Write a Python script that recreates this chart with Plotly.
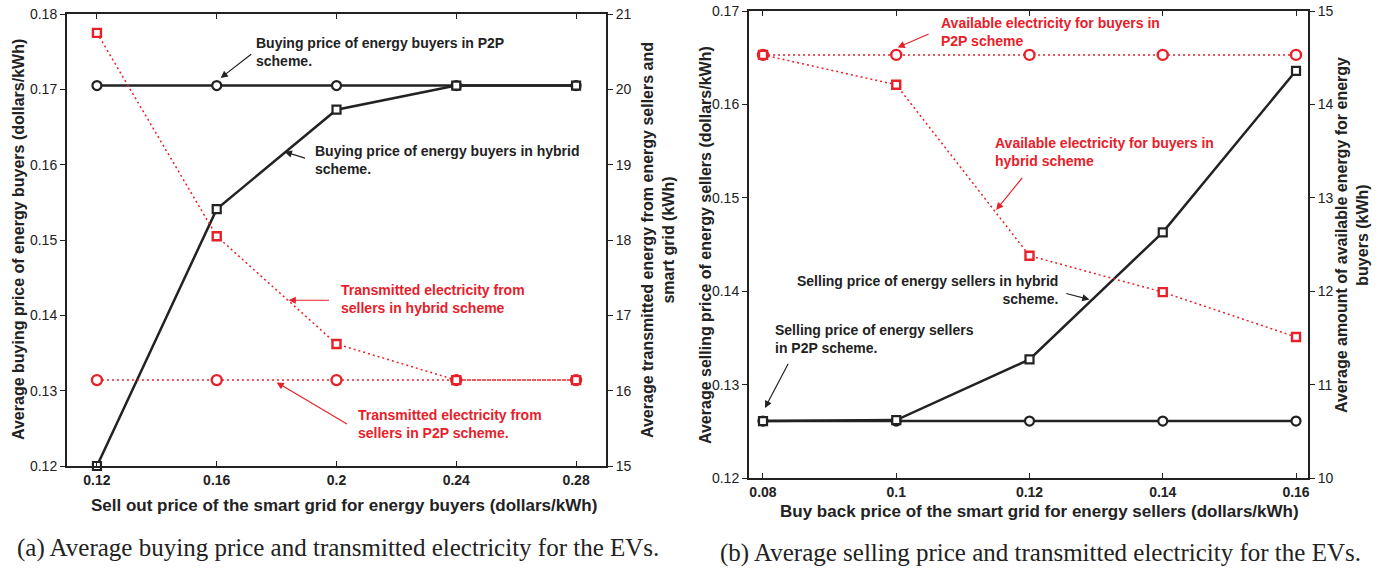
import plotly.graph_objects as go

# ---- data -------------------------------------------------------------
sell_out_price = [0.12, 0.16, 0.20, 0.24, 0.28]
sell_out_ticks = ["0.12", "0.16", "0.2", "0.24", "0.28"]
buy_price_p2p = [0.1705, 0.1705, 0.1705, 0.1705, 0.1705]
buy_price_hybrid = [0.1200, 0.1541, 0.1673, 0.1705, 0.1705]
transmitted_hybrid = [20.75, 18.05, 16.62, 16.14, 16.14]
transmitted_p2p = [16.14, 16.14, 16.14, 16.14, 16.14]

buy_back_price = [0.08, 0.10, 0.12, 0.14, 0.16]
buy_back_ticks = ["0.08", "0.1", "0.12", "0.14", "0.16"]
sell_price_p2p = [0.1261, 0.1261, 0.1261, 0.1261, 0.1261]
sell_price_hybrid = [0.1261, 0.1262, 0.1327, 0.1463, 0.1636]
available_p2p = [14.53, 14.53, 14.53, 14.53, 14.53]
available_hybrid = [14.53, 14.21, 12.38, 11.99, 11.51]

W, H = 1383, 570
BLACK = "#222222"
RED = "#E8202A"
SANS = "Liberation Sans, Arial, sans-serif"
SERIF = "Liberation Serif, Times New Roman, serif"


def px(x):
    return x / W


def py(y):
    return 1 - y / H


fig = go.Figure()


def black_trace(x, y, symbol, xa, ya):
    fig.add_trace(go.Scatter(
        x=x, y=y, xaxis=xa, yaxis=ya, mode="lines+markers",
        line=dict(color=BLACK, width=2.5),
        marker=dict(symbol=symbol, size=9 if symbol == "circle" else 8,
                    color="white", line=dict(color=BLACK, width=2.2)),
        cliponaxis=False, showlegend=False))


def red_trace(x, y, symbol, xa, ya):
    fig.add_trace(go.Scatter(
        x=x, y=y, xaxis=xa, yaxis=ya, mode="lines+markers",
        line=dict(color=RED, width=1.5, dash="2px,3px"),
        marker=dict(symbol=symbol, size=10 if symbol == "circle" else 8,
                    color="white", line=dict(color=RED, width=2.4)),
        cliponaxis=False, showlegend=False))


# panel (a)
red_trace(sell_out_price, transmitted_p2p, "circle", "x", "y2")
red_trace(sell_out_price, transmitted_hybrid, "square", "x", "y2")
black_trace(sell_out_price, buy_price_p2p, "circle", "x", "y")
black_trace(sell_out_price, buy_price_hybrid, "square", "x", "y")

# panel (b)
red_trace(buy_back_price, available_p2p, "circle", "x2", "y4")
red_trace(buy_back_price, available_hybrid, "square", "x2", "y4")
black_trace(buy_back_price, sell_price_p2p, "circle", "x2", "y3")
black_trace(buy_back_price, sell_price_hybrid, "square", "x2", "y3")

tick_font = dict(family=SANS, size=14, color=BLACK)
xtick_font = dict(family=SANS, size=14, color=BLACK, weight="bold")
axis_common = dict(showgrid=False, zeroline=False, showline=True,
                   linewidth=2, linecolor=BLACK, tickcolor=BLACK,
                   tickwidth=1.2, ticklen=5, automargin=False)

fig.update_layout(
    width=W, height=H,
    margin=dict(l=0, r=0, t=0, b=0, autoexpand=False),
    paper_bgcolor="white", plot_bgcolor="white",
    xaxis=dict(domain=[px(67), px(606)], range=[0.11, 0.29], anchor="y",
               tickvals=sell_out_price, ticktext=sell_out_ticks,
               ticks="inside", mirror="ticks", tickfont=xtick_font,
               **axis_common),
    yaxis=dict(domain=[py(466), py(14)], range=[0.12, 0.18], anchor="x",
               dtick=0.01, tickformat=".2f", ticks="outside",
               tickfont=tick_font, **axis_common),
    yaxis2=dict(range=[15, 21], overlaying="y", side="right", anchor="x",
                dtick=1, ticks="outside", tickfont=tick_font, **axis_common),
    xaxis2=dict(domain=[px(749), px(1308)], range=[0.0779, 0.1618],
                anchor="y3", tickvals=buy_back_price, ticktext=buy_back_ticks,
                ticks="inside", mirror="ticks", tickfont=xtick_font,
                **axis_common),
    yaxis3=dict(domain=[py(478), py(11)], range=[0.12, 0.17], anchor="x2",
                dtick=0.01, tickformat=".2f", ticks="outside",
                tickfont=tick_font, **axis_common),
    yaxis4=dict(range=[10, 15], overlaying="y3", side="right", anchor="x2",
                dtick=1, ticks="outside", tickfont=tick_font, **axis_common),
)

ann = []


def text(t, x, y, color=BLACK, xanchor="left", align="left", size=14):
    ann.append(dict(text=t, x=px(x), y=py(y), xref="paper", yref="paper",
                    xanchor=xanchor, yanchor="middle", align=align,
                    showarrow=False,
                    font=dict(family=SANS, size=size, color=color,
                              weight="bold")))


def arrow(head, tail, xa, ya, color=BLACK):
    ann.append(dict(text="", x=head[0], y=head[1], ax=tail[0], ay=tail[1],
                    xref=xa, yref=ya, axref=xa, ayref=ya, showarrow=True,
                    arrowhead=2, arrowsize=1.2, arrowwidth=1.2,
                    arrowcolor=color))


# series labels, panel (a)
text("Buying price of energy buyers in P2P<br>scheme.", 254, 52)
arrow((0.1613, 0.1715), (0.172, 0.1748), "x", "y")
text("Buying price of energy buyers in hybrid<br>scheme.", 313, 160)
arrow((0.1827, 0.1617), (0.190, 0.1608), "x", "y")
text("Transmitted electricity from<br>sellers in hybrid scheme", 339, 299, RED)
arrow((0.184, 0.1420), (0.198, 0.1420), "x", "y", RED)
text("Transmitted electricity from<br>sellers in P2P scheme.", 356, 424, RED)
arrow((0.180, 0.1311), (0.204, 0.12545), "x", "y", RED)

# series labels, panel (b)
text("Available electricity for buyers in<br>P2P scheme", 939, 32, RED)
arrow((0.1002, 0.1661), (0.1051, 0.1676), "x2", "y3", RED)
text("Available electricity for buyers in<br>hybrid scheme", 993, 152, RED)
arrow((0.1150, 0.1487), (0.1191, 0.1523), "x2", "y3", RED)
text("Selling price of energy sellers in hybrid<br>scheme.", 1060, 290,
     xanchor="right", align="right")
arrow((0.1290, 0.1391), (0.1253, 0.1398), "x2", "y3")
text("Selling price of energy sellers<br>in P2P scheme.", 773, 339)
arrow((0.0803, 0.1275), (0.0839, 0.1324), "x2", "y3")


def title(t, x, y, angle=0, size=16):
    ann.append(dict(text=t, x=px(x), y=py(y), xref="paper", yref="paper",
                    xanchor="center", yanchor="middle", align="center",
                    textangle=angle, showarrow=False,
                    font=dict(family=SANS, size=size, color=BLACK,
                              weight="bold")))


title("Average buying price of energy buyers (dollars/kWh)", 18, 240, -90)
title("Average transmitted energy from energy sellers and<br>smart grid (kWh)",
      658, 240, -90)
title("Sell out price of the smart grid for energy buyers (dollars/kWh)",
      344, 505, size=17)
title("Average selling price of energy sellers (dollars/kWh)", 705, 245, -90)
title("Average amount of available energy for energy<br>buyers (kWh)",
      1352, 235, -90)
title("Buy back price of the smart grid for energy sellers (dollars/kWh)",
      1039, 511, size=17)


def caption(t, x, y):
    ann.append(dict(text=t, x=px(x), y=py(y), xref="paper", yref="paper",
                    xanchor="center", yanchor="middle", showarrow=False,
                    font=dict(family=SERIF, size=25, color=BLACK)))


caption("(a) Average buying price and transmitted electricity for the EVs.",
        338, 548)
caption("(b) Average selling price and transmitted electricity for the EVs.",
        1040, 553)

fig.update_layout(annotations=ann)
fig.write_html("out.html")
